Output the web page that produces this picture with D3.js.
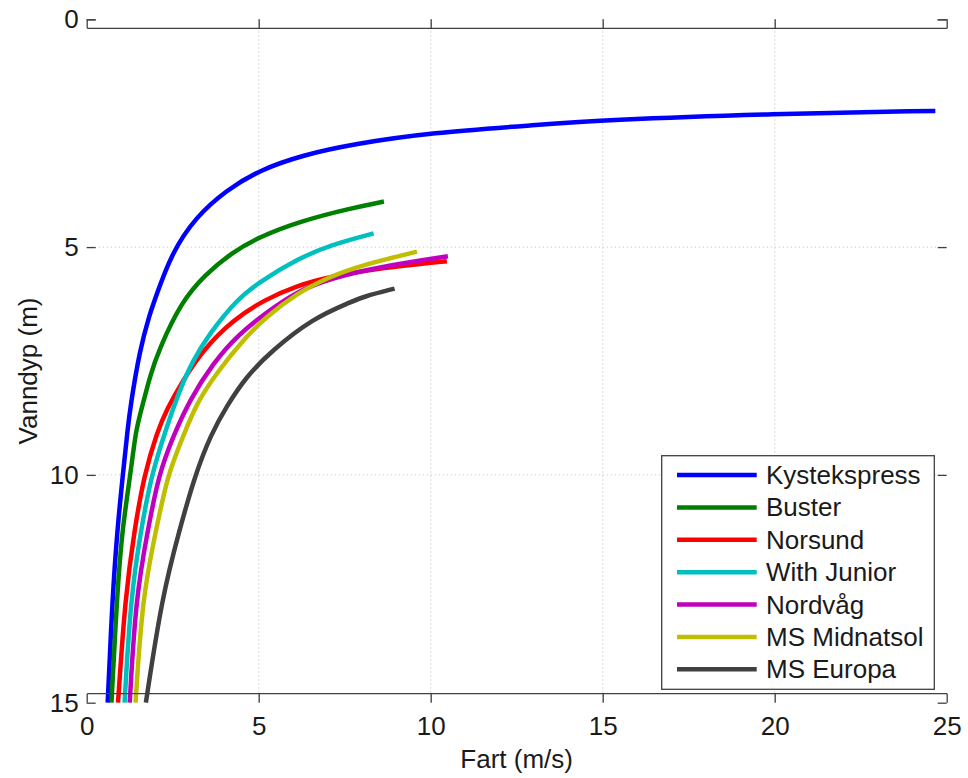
<!DOCTYPE html>
<html>
<head>
<meta charset="utf-8">
<script src="https://cdn.jsdelivr.net/npm/d3@7"></script>
<style>
  html, body { margin: 0; padding: 0; background: #fff; }
  svg { display: block; font-family: Arial, "Liberation Sans", Helvetica, sans-serif; }
</style>
</head>
<body>
<svg id="chart" width="968" height="778"></svg>
<script>
// Vessel names and line colours
const vessels = ["Kystekspress", "Buster", "Norsund", "With Junior", "Nordvåg", "MS Midnatsol", "MS Europa"];
const colors = ["#0000ff", "#008000", "#ff0000", "#00bfbf", "#bf00bf", "#bfbf00", "#404040"];

// Speed (m/s) and water depth (m) pairs for each vessel
const kystekspress = [[0.61,15],[0.75,12.67],[0.89,11.2],[1.05,10.0],[1.19,9.0],[1.27,8.5],[1.54,7.26],[1.84,6.45],[1.98,6.16],[2.45,5.15],[3.18,4.33],[4.06,3.75],[5.02,3.31],[6.28,2.98],[7.74,2.74],[10.0,2.49],[13.07,2.32],[15.0,2.21],[20.0,2.07],[24.67,2.01]];
const buster = [[0.72,15],[0.88,12.67],[1.03,11.2],[1.27,10.0],[1.43,9.01],[1.58,8.6],[1.85,7.8],[2.1,7.25],[2.75,6.2],[3.45,5.6],[4.2,5.13],[5.03,4.77],[6.21,4.43],[7.66,4.15],[8.64,4.0]];
const norsund = [[0.91,15],[1.12,12.67],[1.39,11.2],[1.67,10.0],[2.05,9.05],[2.32,8.57],[2.80,7.92],[3.38,7.26],[4.25,6.6],[5.18,6.15],[6.10,5.85],[7.06,5.65],[8.52,5.46],[10.47,5.31]];
const withJunior = [[1.10,15],[1.28,12.67],[1.58,11.2],[1.88,10.0],[2.32,8.96],[2.70,8.14],[3.09,7.48],[3.58,6.89],[4.35,6.16],[5.03,5.76],[6.10,5.27],[7.06,4.96],[8.34,4.70]];
const nordvag = [[1.25,15],[1.43,12.67],[1.78,11.2],[2.09,10.0],[2.51,9.16],[2.99,8.36],[3.67,7.55],[4.40,6.92],[5.25,6.42],[6.10,5.98],[7.06,5.69],[8.52,5.43],[10.5,5.2]];
const midnatsol = [[1.42,15],[1.62,12.67],[2.02,11.2],[2.35,10.0],[2.80,9.16],[3.19,8.43],[3.77,7.77],[4.54,7.04],[5.22,6.53],[6.10,6.02],[7.06,5.65],[8.03,5.39],[9.6,5.1]];
const europa = [[1.72,15],[2.19,12.67],[2.70,11.2],[3.15,10.0],[3.62,9.1],[4.06,8.5],[4.64,7.84],[5.37,7.28],[6.58,6.56],[7.7,6.2],[8.03,6.09],[8.95,5.91]];
const seriesData = [kystekspress, buster, norsund, withJunior, nordvag, midnatsol, europa];

// Axis ticks
const xTicks = [0, 5, 10, 15, 20, 25];
const yTicks = [0, 5, 10, 15];

const svg = d3.select("#chart");
const plot = { left: 86.7, right: 946.7, top: 19.3, bottom: 702.7 };

const x = d3.scaleLinear().domain([0, 25]).range([plot.left, plot.right]);
const y = d3.scaleLinear().domain([0, 15]).range([plot.top, plot.bottom]);

const axisColor = "#404040";
const fontSize = 26;

// Dotted grid
const grid = svg.append("g");
grid.selectAll("line.gx").data(xTicks.slice(1, -1)).join("line")
  .attr("x1", d => x(d)).attr("x2", d => x(d))
  .attr("y1", plot.top).attr("y2", plot.bottom)
  .attr("stroke", "#d0d0d0").attr("stroke-width", 1).attr("stroke-dasharray", "1.5,2.5");
grid.selectAll("line.gy").data(yTicks.slice(1, -1)).join("line")
  .attr("y1", d => y(d)).attr("y2", d => y(d))
  .attr("x1", plot.left).attr("x2", plot.right)
  .attr("stroke", "#d0d0d0").attr("stroke-width", 1).attr("stroke-dasharray", "1.5,2.5");

// Curves
const line = d3.line().x(d => x(d[0])).y(d => y(d[1])).curve(d3.curveBasis);
const curves = svg.append("g");
seriesData.forEach((s, i) => {
  curves.append("path")
    .datum(s)
    .attr("d", line)
    .attr("fill", "none")
    .attr("stroke", colors[i])
    .attr("stroke-width", 4.5)
    .attr("stroke-linecap", "butt")
    .attr("stroke-linejoin", "round");
});

// Axes with inward ticks on all four sides
const tickLen = 9;
const xAxisBottom = d3.axisBottom(x).tickValues(xTicks).tickSize(-tickLen).tickPadding(14).tickFormat(d3.format("d"));
const xAxisTop = d3.axisTop(x).tickValues(xTicks).tickSize(-tickLen).tickFormat("");
const yAxisLeft = d3.axisLeft(y).tickValues(yTicks).tickSize(-tickLen).tickPadding(8).tickFormat(d3.format("d"));
const yAxisRight = d3.axisRight(y).tickValues(yTicks).tickSize(-tickLen).tickFormat("");

function styleAxis(g) {
  g.select(".domain").attr("stroke", axisColor).attr("stroke-width", 1.3);
  g.selectAll(".tick line").attr("stroke", axisColor).attr("stroke-width", 1.3);
  g.selectAll(".tick text").attr("fill", "#1a1a1a").style("font-size", fontSize + "px").style("font-family", "Arial, 'Liberation Sans', sans-serif");
}

svg.append("g").attr("transform", `translate(0,${plot.bottom})`).call(xAxisBottom).call(styleAxis);
svg.append("g").attr("transform", `translate(0,${plot.top})`).call(xAxisTop).call(styleAxis);
svg.append("g").attr("transform", `translate(${plot.left},0)`).call(yAxisLeft).call(styleAxis);
svg.append("g").attr("transform", `translate(${plot.right},0)`).call(yAxisRight).call(styleAxis);

// Remove the outer tick stubs that d3 draws at the domain ends
svg.selectAll(".domain").attr("d", function() {
  return d3.select(this).attr("d").replace(/V-?\d+(\.\d+)?/g, "").replace(/H-?\d+(\.\d+)?V/g, "H");
});

// Axis titles
svg.append("text")
  .attr("x", (plot.left + plot.right) / 2).attr("y", 768)
  .attr("text-anchor", "middle")
  .attr("fill", "#1a1a1a").style("font-size", fontSize + "px")
  .text("Fart (m/s)");
svg.append("text")
  .attr("transform", `translate(37,${(plot.top + plot.bottom) / 2 + 10}) rotate(-90)`)
  .attr("text-anchor", "middle")
  .attr("fill", "#1a1a1a").style("font-size", fontSize + "px")
  .text("Vanndyp (m)");

// Legend
const legend = svg.append("g");
legend.append("rect")
  .attr("x", 661.7).attr("y", 455.7).attr("width", 272.6).attr("height", 233.6)
  .attr("fill", "#fff").attr("stroke", axisColor).attr("stroke-width", 1.3);
const rowY = d3.scalePoint().domain(vessels).range([475, 669.3]);
vessels.forEach((name, i) => {
  legend.append("line")
    .attr("x1", 677).attr("x2", 756.7)
    .attr("y1", rowY(name)).attr("y2", rowY(name))
    .attr("stroke", colors[i]).attr("stroke-width", 4.5);
  legend.append("text")
    .attr("x", 766).attr("y", rowY(name))
    .attr("dy", "0.35em")
    .attr("fill", "#1a1a1a").style("font-size", fontSize + "px")
    .text(name);
});
</script>
</body>
</html>
